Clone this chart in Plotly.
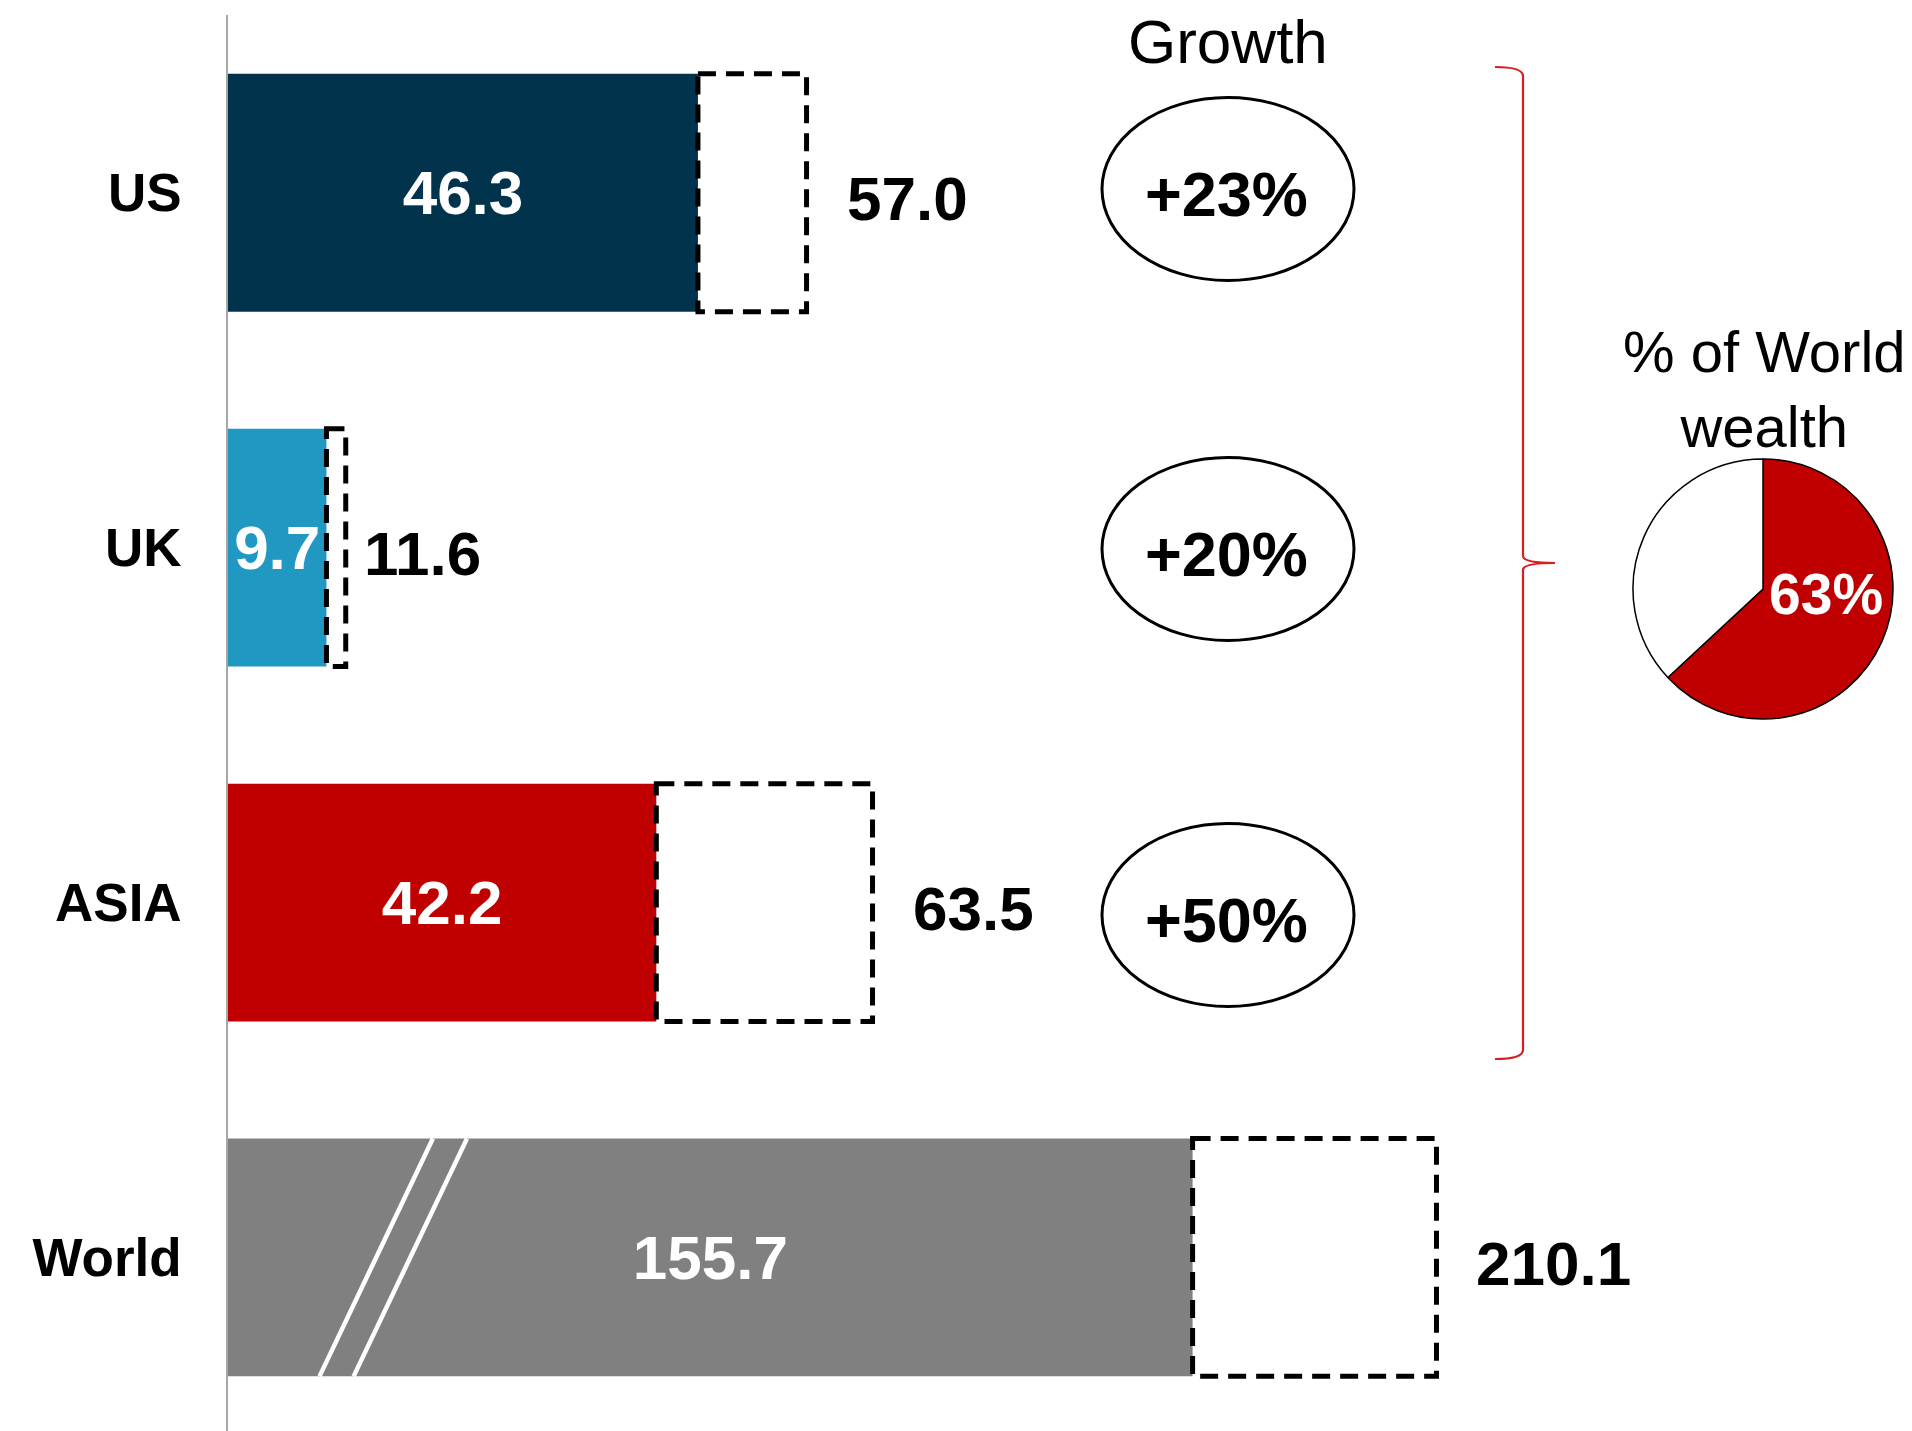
import plotly.graph_objects as go

# ---------------- data ----------------
regions = ["US", "UK", "ASIA"]
wealth_now = [46.3, 9.7, 42.2]
wealth_future = [57.0, 11.6, 63.5]
world_label = "World"
world_now = 155.7
world_future = 210.1
categories = regions + [world_label]

# ---------------- style ----------------
W, H = 1912, 1431
FONT = "Liberation Sans, Arial, sans-serif"
bar_colors = ["#02334D", "#2198C2", "#C00000"]
world_color = "#808080"
red = "#C00000"
label_gap = [38, 16, 38, 38]          # px gap between dashed box and outside label
ellipse_cy = [189, 549, 915]          # px centres of the growth ellipses
BAR_W = 0.67
X_AXIS_PX = 228
PX_PER_UNIT = 10.15                   # main scale
WORLD_PX_PER_UNIT = 4.483             # broken scale for the World bar
WORLD_ZERO_PX = 494.6


def px(x):
    return x / W


def py(y):
    return 1 - y / H


dom_w = W - X_AXIS_PX
x_range = [0, dom_w / PX_PER_UNIT]
world_start = (X_AXIS_PX - WORLD_ZERO_PX) / WORLD_PX_PER_UNIT
x2_range = [world_start, world_start + dom_w / WORLD_PX_PER_UNIT]

fig = go.Figure()

# regional bars
fig.add_trace(go.Bar(
    y=regions, x=wealth_now, orientation="h", width=BAR_W,
    marker=dict(color=bar_colors, line=dict(width=0)),
    text=[f"{v:.1f}" for v in wealth_now], textposition="inside",
    insidetextanchor="middle", constraintext="none", textangle=0,
    textfont=dict(family=FONT, size=62, color="white", weight="bold"),
    hoverinfo="skip", showlegend=False, xaxis="x", yaxis="y",
))

# world bar on broken scale
fig.add_trace(go.Bar(
    y=[world_label], x=[world_now - world_start], base=[world_start],
    orientation="h", width=BAR_W,
    marker=dict(color=world_color, line=dict(width=0)),
    text=[f"{world_now:.1f}"], textposition="inside",
    insidetextanchor="middle", constraintext="none", textangle=0,
    textfont=dict(family=FONT, size=62, color="white", weight="bold"),
    hoverinfo="skip", showlegend=False, xaxis="x2", yaxis="y",
))

shapes = []
annotations = []
dash = "18px,10px"

# dashed forecast boxes and outside labels
all_now = wealth_now + [world_now]
all_future = wealth_future + [world_future]
for i, (c, f) in enumerate(zip(all_now, all_future)):
    xr = "x" if i < len(regions) else "x2"
    shapes.append(dict(type="rect", xref=xr, yref="y", x0=c, x1=f,
                       y0=i - BAR_W / 2, y1=i + BAR_W / 2,
                       line=dict(color="black", width=5, dash=dash),
                       fillcolor="rgba(0,0,0,0)", layer="above"))
    annotations.append(dict(xref=xr, yref="y", x=f, y=i, text=f"{f:.1f}",
                            showarrow=False, xanchor="left", yanchor="middle",
                            xshift=label_gap[i], yshift=-6,
                            font=dict(family=FONT, size=62, color="black", weight="bold")))

# break marks in the World bar
wi = len(regions)
for bx, tx in [(319.5, 432.9), (353.6, 467.0)]:
    shapes.append(dict(type="line", xref="paper", yref="y",
                       x0=px(bx), x1=px(tx), y0=wi + BAR_W / 2, y1=wi - BAR_W / 2,
                       line=dict(color="white", width=4.5), layer="above"))

# growth ellipses
ecx, ehw, ehh = 1228, 126, 91.5
for i, (c, f) in enumerate(zip(wealth_now, wealth_future)):
    g = round((f / c - 1) * 100)
    cy = ellipse_cy[i]
    shapes.append(dict(type="circle", xref="paper", yref="paper",
                       x0=px(ecx - ehw), x1=px(ecx + ehw), y0=py(cy + ehh), y1=py(cy - ehh),
                       line=dict(color="black", width=3), fillcolor="rgba(0,0,0,0)"))
    annotations.append(dict(xref="paper", yref="paper", x=px(ecx - 2), y=py(cy + 5),
                            text=f"+{g}%", showarrow=False,
                            xanchor="center", yanchor="middle",
                            font=dict(family=FONT, size=63, color="black", weight="bold")))

annotations.append(dict(xref="paper", yref="paper", x=px(1228), y=py(42), text="Growth",
                        showarrow=False, xanchor="center", yanchor="middle",
                        font=dict(family=FONT, size=62, color="black")))

# red curly brace
bx0, bxv, btip = 1495, 1523, 1555
ytop, ybot, ymid = 67, 1059, 563
path = (f"M {px(bx0)},{py(ytop)} Q {px(bxv)},{py(ytop)} {px(bxv)},{py(ytop + 9)} "
        f"L {px(bxv)},{py(ymid - 7)} Q {px(bxv)},{py(ymid)} {px(btip)},{py(ymid)} "
        f"Q {px(bxv)},{py(ymid)} {px(bxv)},{py(ymid + 7)} "
        f"L {px(bxv)},{py(ybot - 9)} Q {px(bxv)},{py(ybot)} {px(bx0)},{py(ybot)}")
shapes.append(dict(type="path", xref="paper", yref="paper", path=path,
                   line=dict(color="#D81E1E", width=2.2)))

# pie: share of world wealth
share = sum(wealth_now) / world_now
pcx, pcy, pr = 1763, 589, 130
fig.add_trace(go.Pie(
    values=[share, 1 - share], textinfo="none",
    marker=dict(colors=[red, "white"], line=dict(color="black", width=1.5)),
    sort=False, direction="clockwise", rotation=0, showlegend=False,
    hoverinfo="skip",
    domain=dict(x=[px(pcx - pr), px(pcx + pr)], y=[py(pcy + pr), py(pcy - pr)]),
))
annotations.append(dict(xref="paper", yref="paper", x=px(1826), y=py(594),
                        text=f"{share * 100:.0f}%", showarrow=False,
                        xanchor="center", yanchor="middle",
                        font=dict(family=FONT, size=57, color="white", weight="bold")))
annotations.append(dict(xref="paper", yref="paper", x=px(1764), y=py(389),
                        text="% of World<br>wealth", showarrow=False,
                        xanchor="center", yanchor="middle",
                        font=dict(family=FONT, size=58, color="black")))

top_px = 15.3
fig.update_layout(
    width=W, height=H, autosize=False,
    margin=dict(l=0, r=0, t=0, b=0),
    paper_bgcolor="white", plot_bgcolor="white",
    barmode="overlay",
    xaxis=dict(domain=[px(X_AXIS_PX), 1], range=x_range, visible=False, fixedrange=True),
    xaxis2=dict(domain=[px(X_AXIS_PX), 1], range=x2_range, visible=False,
                overlaying="x", anchor="y", fixedrange=True),
    yaxis=dict(domain=[0, py(top_px)], type="category", categoryorder="array",
               categoryarray=categories, range=[3.489, -0.5],
               showline=True, linecolor="#A6A6A6", linewidth=1.5,
               showgrid=False, zeroline=False, ticks="", automargin=False,
               ticklabelstandoff=34,
               tickfont=dict(family=FONT, size=53, color="black", weight="bold")),
    shapes=shapes, annotations=annotations,
    font=dict(family=FONT),
)

fig.write_html("out.html")
